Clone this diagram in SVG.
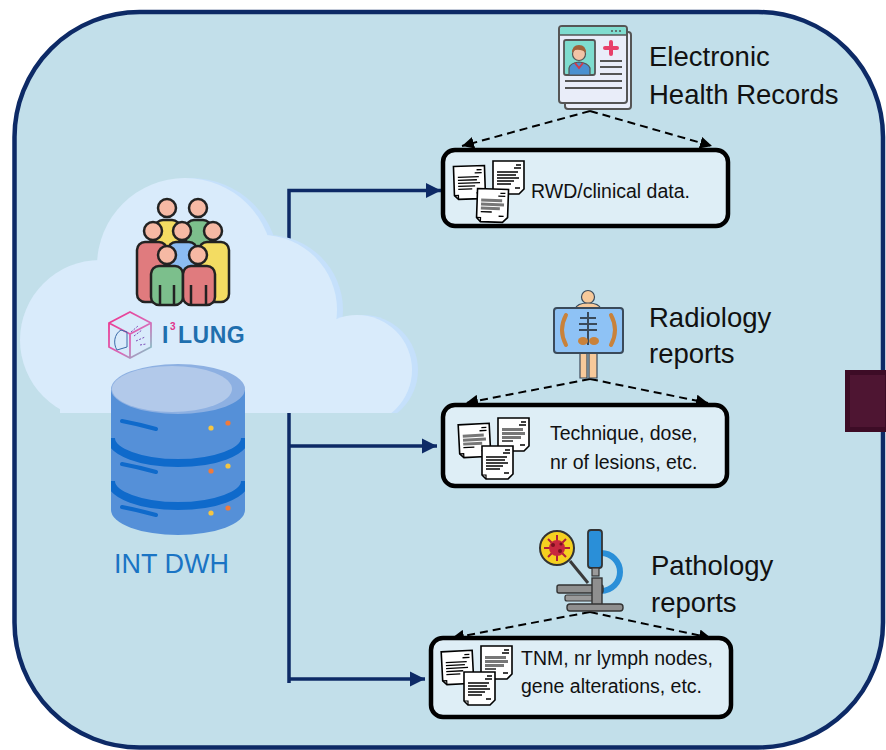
<svg xmlns="http://www.w3.org/2000/svg" width="886" height="750" viewBox="0 0 886 750">
  <defs>
    <style>
      .frame { fill: #c2dfea; stroke: #0d2a66; stroke-width: 4.5; }
      .box { fill: #deeef6; stroke: #000; stroke-width: 4.5; }
      .flow { fill: none; stroke: #0d2a66; stroke-width: 3.5; }
      .dash { fill: none; stroke: #000; stroke-width: 2; stroke-dasharray: 8 5; }
      .head { font-family: "Liberation Sans", Arial, sans-serif; font-size: 27.5px; fill: #111; }
      .lbl { font-family: "Liberation Sans", Arial, sans-serif; font-size: 19.5px; fill: #111; }
      .ink { stroke: #222; stroke-width: 2.5; stroke-linejoin: round; }
      .skin { fill: #f6b9a4; }
      .page { fill: #fff; stroke: #000; stroke-width: 1.6; }
      .txt { stroke: #000; stroke-width: 1.3; }
      .blk { fill: #777; }
    </style>
    <marker id="solidHead" viewBox="0 0 10 10" refX="10" refY="5" markerWidth="4.4" markerHeight="4.4" orient="auto" markerUnits="strokeWidth">
      <path d="M0,0 L10,5 L0,10 Z" fill="#0d2a66"/>
    </marker>
    <marker id="dashHead" viewBox="0 0 10 10" refX="10" refY="5" markerWidth="6" markerHeight="6" orient="auto" markerUnits="strokeWidth">
      <path d="M0,0 L10,5 L0,10 Z" fill="#000"/>
    </marker>
    <!-- document page: 33 x 35 with folded corner -->
    <symbol id="docLines" viewBox="0 0 33 35" overflow="visible">
      <path class="page" d="M1,1 H32 V29 L27,34 H5 L1,30 Z"/>
      <path d="M1,30 L5,30 L5,34" fill="none" stroke="#000" stroke-width="1.2"/>
      <path class="txt" d="M24,5 H29 M22,8 H29 M5,12 H26 M5,15 H24 M5,18 H27 M5,21 H22 M5,24 H19 M23,28 H28"/>
    </symbol>
    <symbol id="docBlock" viewBox="0 0 33 35" overflow="visible">
      <path class="page" d="M1,1 H32 V29 L27,34 H5 L1,30 Z"/>
      <path d="M1,30 L5,30 L5,34" fill="none" stroke="#000" stroke-width="1.2"/>
      <path class="txt" d="M24,5 H29 M22,8 H29 M23,28 H28"/>
      <rect class="blk" x="5" y="11" width="21" height="3"/>
      <rect class="blk" x="5" y="15" width="23" height="3"/>
      <rect class="blk" x="5" y="19" width="19" height="3"/>
      <path class="txt" d="M5,24 H16"/>
    </symbol>
    <clipPath id="cloudClip">
      <rect x="0" y="150" width="450" height="263"/>
    </clipPath>
    <clipPath id="cylClip">
      <path d="M111,380 V510 A67,25 0 0 0 245,510 V380 Z"/>
    </clipPath>
  </defs>

  <!-- outer frame -->
  <rect class="frame" x="14.5" y="12" width="868.5" height="735.5" rx="125" ry="125"/>

  <!-- connectors -->
  <g id="connectors">
    <path class="flow" d="M289,683 V190.5 H441" marker-end="url(#solidHead)"/>
    <path class="flow" d="M289,446 H437" marker-end="url(#solidHead)"/>
    <path class="flow" d="M289,679 H425" marker-end="url(#solidHead)"/>

    <path class="dash" d="M590,111 L462,146" marker-end="url(#dashHead)"/>
    <path class="dash" d="M590,111 L712,146" marker-end="url(#dashHead)"/>
    <path class="dash" d="M590,379 L466,403" marker-end="url(#dashHead)"/>
    <path class="dash" d="M590,379 L708,403" marker-end="url(#dashHead)"/>
    <path class="dash" d="M590,612 L452,638" marker-end="url(#dashHead)"/>
    <path class="dash" d="M590,612 L711,638" marker-end="url(#dashHead)"/>
  </g>

  <!-- cloud with people, logo and warehouse -->
  <g id="source">
    <g clip-path="url(#cloudClip)">
      <g fill="#c5e0fb" transform="translate(6,0)">
        <circle cx="100" cy="340" r="80"/>
        <circle cx="185" cy="266" r="88"/>
        <circle cx="262" cy="310" r="75"/>
        <circle cx="357" cy="370" r="55"/>
        <rect x="60" y="320" width="320" height="100"/>
      </g>
      <g fill="#d9ebfb">
        <circle cx="100" cy="340" r="80"/>
        <circle cx="185" cy="266" r="88"/>
        <circle cx="262" cy="310" r="75"/>
        <circle cx="357" cy="370" r="55"/>
        <rect x="60" y="320" width="320" height="100"/>
      </g>
    </g>

    <!-- group of people -->
    <g id="people" class="ink">
      <rect x="155" y="220" width="25" height="40" rx="8" fill="#f3dc62"/>
      <rect x="186" y="220" width="25" height="40" rx="8" fill="#7cbf8c"/>
      <circle class="skin" cx="167" cy="208" r="9"/>
      <circle class="skin" cx="198" cy="208" r="9"/>
      <rect x="137" y="242" width="30" height="60" rx="8" fill="#e07b7e"/>
      <rect x="168" y="242" width="29" height="30" rx="8" fill="#8cbcf2"/>
      <rect x="199" y="242" width="30" height="60" rx="8" fill="#f3dc62"/>
      <circle class="skin" cx="153" cy="231" r="9"/>
      <circle class="skin" cx="182" cy="231" r="9"/>
      <circle class="skin" cx="213" cy="231" r="9"/>
      <rect x="151" y="266" width="32" height="39" rx="8" fill="#7cbf8c"/>
      <rect x="183" y="266" width="32" height="39" rx="8" fill="#e07b7e"/>
      <circle class="skin" cx="167" cy="255" r="9"/>
      <circle class="skin" cx="198" cy="255" r="9"/>
      <path d="M160,285 V305 M174,285 V305 M191,285 V305 M206,285 V305" fill="none"/>
    </g>

    <!-- project logo -->
    <g id="logo">
      <defs>
        <linearGradient id="hexGrad" x1="0" y1="0" x2="1" y2="1">
          <stop offset="0" stop-color="#f0308a"/>
          <stop offset="0.6" stop-color="#d86ab8"/>
          <stop offset="1" stop-color="#6fd7c8"/>
        </linearGradient>
      </defs>
      <path d="M130,312 L151,323 L151,347 L130,358 L109,347 L109,323 Z M109,323 L130,334 L151,323 M130,334 L130,358" fill="none" stroke="url(#hexGrad)" stroke-width="1.8"/>
      <path d="M121,330 C114,334 113,344 117,350 L127,347 L127,332 Z" fill="none" stroke="#3a6aa8" stroke-width="1"/>
      <path d="M131,332 L138,326 M134,336 L142,330 M136,341 L145,337 M140,345 L146,344" stroke="#7a4cb8" stroke-width="1" stroke-dasharray="2 1.5"/>
      <text x="162" y="343" font-family="Liberation Sans, Arial, sans-serif" font-size="23" font-weight="bold" fill="#1f6fae">I</text>
      <text x="170" y="330" font-family="Liberation Sans, Arial, sans-serif" font-size="10" font-weight="bold" fill="#e0348a">3</text>
      <text x="178" y="343" font-family="Liberation Sans, Arial, sans-serif" font-size="23" font-weight="bold" fill="#1f6fae" letter-spacing="0.5">LUNG</text>
    </g>

    <!-- data warehouse cylinder -->
    <g id="warehouse">
      <path d="M111,390 V510 A67,25 0 0 0 245,510 V390 Z" fill="#5590d8"/>
      <g clip-path="url(#cylClip)">
        <path d="M111,438 A67,25 0 0 0 245,438" fill="none" stroke="#0f6acb" stroke-width="8"/>
        <path d="M111,481 A67,25 0 0 0 245,481" fill="none" stroke="#0f6acb" stroke-width="8"/>
      </g>
      <ellipse cx="178" cy="389" rx="67" ry="25" fill="#8db0e2"/>
      <ellipse cx="172" cy="389" rx="60" ry="23" fill="#b2c9ea"/>
      <path d="M122,421 Q138,424 156,429 M122,464 Q138,467 156,472 M122,507 Q138,510 156,515" fill="none" stroke="#0f6acb" stroke-width="4" stroke-linecap="round"/>
      <circle cx="211" cy="428" r="2.6" fill="#f4c542"/>
      <circle cx="228" cy="423" r="2.6" fill="#f07a3a"/>
      <circle cx="211" cy="471" r="2.6" fill="#f07a3a"/>
      <circle cx="228" cy="466" r="2.6" fill="#f4c542"/>
      <circle cx="211" cy="513" r="2.6" fill="#f4c542"/>
      <circle cx="228" cy="508" r="2.6" fill="#f07a3a"/>
    </g>
    <text x="114" y="573" font-family="Liberation Sans, Arial, sans-serif" font-size="27" fill="#1a74c4">INT DWH</text>
  </g>

  <!-- electronic health records -->
  <g id="ehr">
    <rect x="565" y="32" width="66" height="77" rx="3" fill="#e9edf9" stroke="#555" stroke-width="2"/>
    <rect x="559" y="26" width="68" height="77" rx="3" fill="#e9edf9" stroke="#555" stroke-width="2"/>
    <path d="M560,35 V29 Q560,27 562,27 H624 Q626,27 626,29 V35 Z" fill="#7fdccf"/>
    <path d="M559,35 H627" stroke="#555" stroke-width="1.5"/>
    <circle cx="612" cy="31" r="1" fill="#555"/><circle cx="616" cy="31" r="1" fill="#555"/><circle cx="620" cy="31" r="1" fill="#555"/>
    <rect x="564" y="40" width="31" height="35" rx="2" fill="#7fdccf" stroke="#555" stroke-width="1.8"/>
    <path d="M569,75 V68 Q570,63 579,62 Q588,63 590,68 V75 Z" fill="#4a90d0" stroke="#555" stroke-width="1.2"/>
    <circle cx="579" cy="54" r="6.5" fill="#f2c3a6" stroke="#555" stroke-width="1.2"/>
    <path d="M572,53 Q572,45 579,45 Q586,45 586,53 Q582,49 575,50 Z" fill="#a0613a"/>
    <path d="M575,63 L579,68 L583,63" fill="none" stroke="#d23a4a" stroke-width="2"/>
    <path d="M611,42 V54 M605,48 H617" stroke="#e8406a" stroke-width="4" stroke-linecap="round"/>
    <path d="M600,61 H622 M600,67 H622 M600,74 H622 M565,81 H622 M565,88 H622" stroke="#555" stroke-width="1.8"/>
    <text class="head" x="649" y="66">Electronic</text>
    <text class="head" x="649" y="104">Health Records</text>
  </g>

  <g id="clinical">
    <rect class="box" x="443" y="150" width="285" height="76" rx="12"/>
    <use href="#docLines" x="453" y="165" width="33" height="35" transform="rotate(-2 470 182)"/>
    <use href="#docLines" x="492" y="160" width="33" height="35"/>
    <use href="#docBlock" x="476" y="188" width="33" height="35" transform="rotate(2 492 205)"/>
    <text class="lbl" x="531" y="198">RWD/clinical data.</text>
  </g>

  <!-- radiology reports -->
  <g id="radiology">
    <circle cx="588" cy="297" r="6.5" fill="#f7c99a" stroke="#3a4a5a" stroke-width="1.2"/>
    <path d="M575,309 Q577,303 588,303 Q599,303 601,309" fill="#f7c99a" stroke="#3a4a5a" stroke-width="1.2"/>
    <path d="M580,352 V378 H587 V352 M589,352 V378 H597 V352" fill="#f7c99a" stroke="#3a4a5a" stroke-width="1.2"/>
    <rect x="554" y="308" width="69" height="45" rx="3" fill="#8ec2f5" stroke="#3a4a5a" stroke-width="2"/>
    <path d="M566,315 Q558,330 566,345" fill="none" stroke="#c9823a" stroke-width="4" stroke-linecap="round"/>
    <path d="M611,315 Q619,330 611,345" fill="none" stroke="#c9823a" stroke-width="4" stroke-linecap="round"/>
    <path d="M588,312 V345 M580,318 H596 M579,324 H597 M579,330 H597" stroke="#3a4a5a" stroke-width="2"/>
    <ellipse cx="583" cy="341" rx="5" ry="4" fill="#c9823a"/>
    <ellipse cx="594" cy="341" rx="5" ry="4" fill="#c9823a"/>
    <text class="head" x="649" y="327">Radiology</text>
    <text class="head" x="649" y="363">reports</text>
  </g>

  <g id="imaging">
    <rect class="box" x="443" y="405" width="284" height="81" rx="12"/>
    <use href="#docBlock" x="458" y="423" width="33" height="35" transform="rotate(-3 475 440)"/>
    <use href="#docBlock" x="497" y="417" width="33" height="35"/>
    <use href="#docLines" x="481" y="445" width="33" height="35"/>
    <text class="lbl" x="550" y="440">Technique, dose,</text>
    <text class="lbl" x="550" y="469">nr of lesions, etc.</text>
  </g>

  <!-- pathology reports -->
  <g id="pathology">
    <path d="M570,561 L588,583" stroke="#3a3a3a" stroke-width="3"/>
    <path d="M601,553 A19,19 0 0 1 601,591" fill="none" stroke="#2a8fd8" stroke-width="6"/>
    <rect x="588" y="530" width="14" height="38" rx="3" fill="#2a8fd8" stroke="#333" stroke-width="1.8"/>
    <rect x="592" y="568" width="7" height="8" fill="#9a9a9a" stroke="#333" stroke-width="1.2"/>
    <rect x="557" y="585" width="46" height="8" rx="2" fill="#8f8f8f" stroke="#333" stroke-width="1.4"/>
    <rect x="565" y="595" width="34" height="6" rx="2" fill="#9a9a9a" stroke="#333" stroke-width="1.2"/>
    <rect x="592" y="578" width="10" height="28" fill="#8f8f8f" stroke="#333" stroke-width="1.4"/>
    <rect x="567" y="604" width="56" height="7" rx="3" fill="#8f8f8f" stroke="#333" stroke-width="1.4"/>
    <circle cx="557" cy="548" r="17" fill="#f5d020" stroke="#333" stroke-width="2"/>
    <g stroke="#b0203a" stroke-width="2">
      <path d="M557,535 V561 M544,548 H570 M548,539 L566,557 M566,539 L548,557"/>
    </g>
    <circle cx="557" cy="548" r="8" fill="#c8283f"/>
    <circle cx="553" cy="545" r="2" fill="#7a1020"/><circle cx="560" cy="551" r="2" fill="#7a1020"/><circle cx="561" cy="544" r="1.6" fill="#7a1020"/>
    <text class="head" x="651" y="575">Pathology</text>
    <text class="head" x="651" y="612">reports</text>
  </g>

  <g id="tissue">
    <rect class="box" x="431" y="638" width="300" height="79" rx="12"/>
    <use href="#docLines" x="441" y="650" width="33" height="35" transform="rotate(-3 458 667)"/>
    <use href="#docBlock" x="480" y="645" width="33" height="35"/>
    <use href="#docLines" x="463" y="671" width="33" height="35"/>
    <text class="lbl" x="521" y="665">TNM, nr lymph nodes,</text>
    <text class="lbl" x="521" y="693">gene alterations, etc.</text>
  </g>

  <!-- side tab -->
  <rect x="847.5" y="372.5" width="40" height="57" fill="#4e1532" stroke="#3d0c26" stroke-width="5"/>
</svg>
